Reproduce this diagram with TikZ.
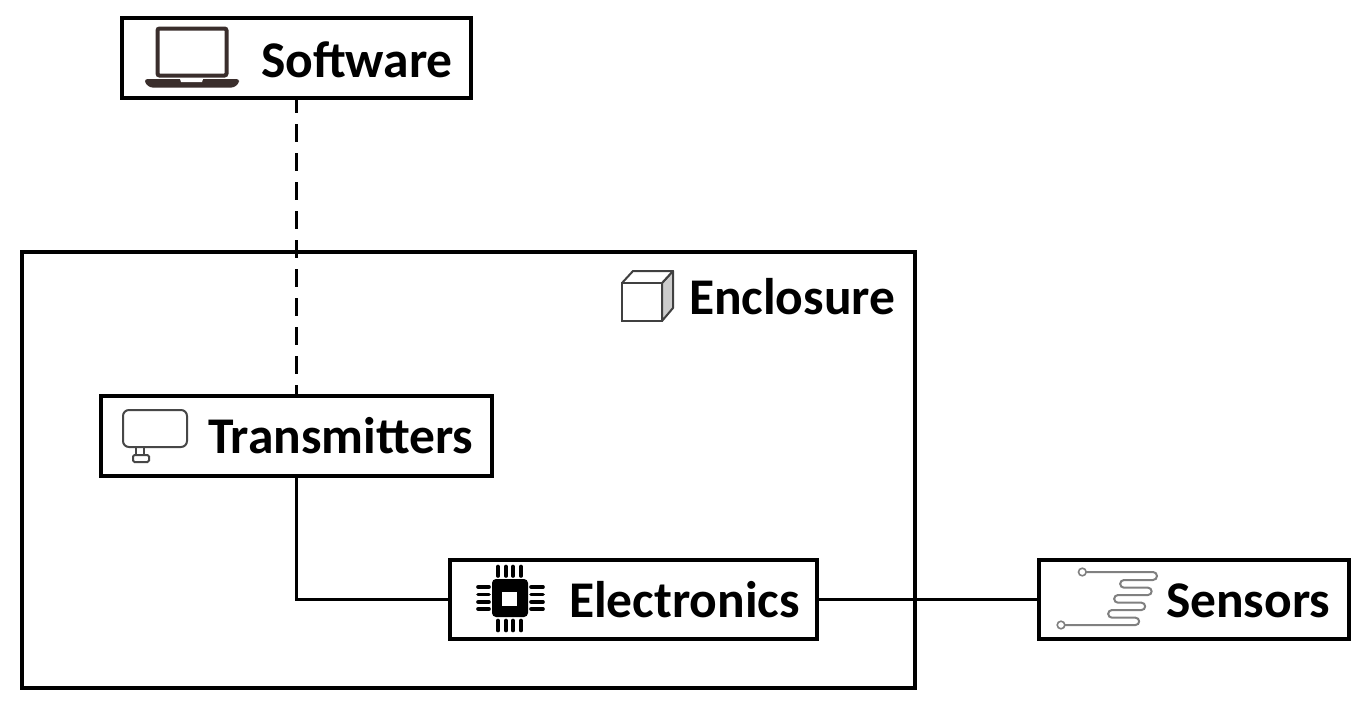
\documentclass[tikz,border=0pt]{standalone}
\usepackage{fontspec}
\setmainfont{Carlito}
\usetikzlibrary{calc}
\definecolor{lapcol}{HTML}{3A2E2C}
\definecolor{sensorcol}{HTML}{808080}
\tikzset{
  frame/.style={draw=black,line width=4.2pt,rectangle,inner sep=0pt,outer sep=0pt,fill=white},
  lbl/.style={anchor=base west,inner sep=0pt,outer sep=0pt,font=\fontsize{51.5}{53}\selectfont\bfseries},
  link/.style={draw=black,line width=3.6pt},
  dashlink/.style={link,dash pattern=on 18pt off 11pt,dash phase=3pt},
  pin/.style={line width=3.6pt,line cap=round,draw=black},
  thinicon/.style={line width=2pt,draw=black!72}
}
\begin{document}
\begin{tikzpicture}[x=1pt,y=-1pt]
\useasboundingbox (0,0) rectangle (1370,712);
\fill[white] (0,0) rectangle (1370,712);
% boxes
\node[frame,minimum width=893pt,minimum height=436pt] (enclosure) at (468.5,470) {};
\node[frame,minimum width=349pt,minimum height=80pt] (software) at (296.5,58) {};
\node[frame,minimum width=391pt,minimum height=80pt] (transmitters) at (296.5,436) {};
\node[frame,minimum width=367pt,minimum height=79pt] (electronics) at (633.5,599.5) {};
\node[frame,minimum width=310pt,minimum height=79pt] (sensors) at (1194,599.5) {};
% connectors
\draw[dashlink] (software.south) -- (transmitters.north);
\draw[link] (transmitters.south) |- (electronics.west);
\draw[link] (electronics.east) -- (sensors.west);
% labels
\node[lbl] (softwarelabel) at (261,77) {Software};
\node[lbl] (enclosurelabel) at (689,314) {Enclosure};
\node[lbl] (transmitterslabel) at (208,453) {Transmitters};
\node[lbl] (electronicslabel) at (569,617) {Electronics};
\node[lbl] (sensorslabel) at (1166,617) {Sensors};
% laptop icon
\draw[lapcol,line width=4pt,rounded corners=2pt] (157.5,28.5) rectangle (226.5,75.5);
\fill[lapcol,rounded corners=2.5pt] (145,79) -- (239,79) -- (239,83) -- (234,87.5) -- (150,87.5) -- (145,83) -- cycle;
\fill[white] (180,79) -- (203,79) -- (202,82) -- (181,82) -- cycle;
% cube icon
\draw[fill=black!20,line width=2pt,draw=black!75,line join=round] (662,283) -- (673,271) -- (673,308) -- (662,321) -- cycle;
\draw[fill=white,line width=2pt,draw=black!75,line join=round] (622,283) -- (633,271) -- (673,271) -- (662,283) -- cycle;
\draw[fill=white,line width=2pt,draw=black!75] (622,283) rectangle (662,321);
% transmitter icon
\draw[thinicon,rounded corners=6pt] (123,410) rectangle (187,447);
\draw[thinicon] (136,447) -- (136,455) (144,447) -- (144,455);
\draw[thinicon,rounded corners=1.5pt] (133,455) rectangle (149,462);
% chip icon
\fill[black,rounded corners=4pt] (492,579) rectangle (528,617);
\fill[white] (502,592) rectangle (517,606);
\foreach \p in {498,506,513,521}{
  \draw[pin] (\p,566.5) -- (\p,576);
  \draw[pin] (\p,620.5) -- (\p,630.5);
}
\foreach \q in {587,594.5,602,609}{
  \draw[pin] (478,\q) -- (489,\q);
  \draw[pin] (531,\q) -- (543,\q);
}
% sensor icon
\draw[sensorcol,line width=2pt]
  (1086,572) -- (1153,572)
  arc[start angle=90,end angle=-90,radius=4pt] -- (1124,580)
  arc[start angle=90,end angle=270,radius=3.85pt] -- (1148,587.7)
  arc[start angle=90,end angle=-90,radius=3.65pt] -- (1118,595)
  arc[start angle=90,end angle=270,radius=3.85pt] -- (1141.5,602.7)
  arc[start angle=90,end angle=-90,radius=3.65pt] -- (1112,610)
  arc[start angle=90,end angle=270,radius=3.85pt] -- (1135.5,617.7)
  arc[start angle=90,end angle=-90,radius=3.65pt] -- (1065,625);
\draw[sensorcol,line width=1.6pt,fill=white] (1082.3,572) circle (3.8pt);
\draw[sensorcol,line width=1.6pt,fill=white] (1061,625) circle (3.8pt);
\end{tikzpicture}
\end{document}
